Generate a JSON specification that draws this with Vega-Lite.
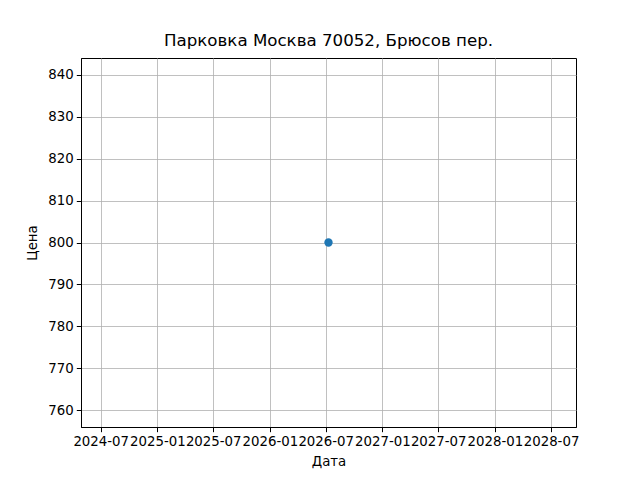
{
  "$schema": "https://vega.github.io/schema/vega-lite/v6.json",
  "autosize": "none",
  "width": 495,
  "height": 369,
  "padding": {"left": 81, "top": 58, "right": 64, "bottom": 53},
  "background": "white",
  "config": {
    "font": "DejaVu Sans",
    "view": {"stroke": "black", "strokeWidth": 1},
    "axis": {
      "labelFont": "DejaVu Sans",
      "labelFontSize": 13.33,
      "labelColor": "black",
      "titleFont": "DejaVu Sans",
      "titleFontSize": 13.33,
      "titleFontWeight": "normal",
      "titleColor": "black",
      "domainColor": "black",
      "tickColor": "black",
      "tickSize": 4.7,
      "labelPadding": 3,
      "gridColor": "#b0b0b0",
      "gridWidth": 0.8,
      "gridOpacity": 1
    }
  },
  "title": {
    "text": "Парковка Москва 70052, Брюсов пер.",
    "font": "DejaVu Sans",
    "fontSize": 16.67,
    "fontWeight": "normal",
    "color": "black",
    "offset": 8
  },
  "data": {
    "values": [
      {"date": "2026-07-10", "price": 800}
    ]
  },
  "mark": {"type": "point", "filled": true, "size": 70, "color": "#1f77b4", "opacity": 1},
  "encoding": {
    "x": {
      "field": "date",
      "type": "temporal",
      "title": "Дата",
      "scale": {
        "type": "utc",
        "domain": [
          {"year": 2024, "month": 4, "date": 28, "utc": true},
          {"year": 2028, "month": 9, "date": 20, "utc": true}
        ],
        "nice": false
      },
      "axis": {
        "values": [
          {"year": 2024, "month": 7, "date": 1, "utc": true},
          {"year": 2025, "month": 1, "date": 1, "utc": true},
          {"year": 2025, "month": 7, "date": 1, "utc": true},
          {"year": 2026, "month": 1, "date": 1, "utc": true},
          {"year": 2026, "month": 7, "date": 1, "utc": true},
          {"year": 2027, "month": 1, "date": 1, "utc": true},
          {"year": 2027, "month": 7, "date": 1, "utc": true},
          {"year": 2028, "month": 1, "date": 1, "utc": true},
          {"year": 2028, "month": 7, "date": 1, "utc": true}
        ],
        "format": "%Y-%m",
        "labelOverlap": false,
        "labelFlush": false,
        "titlePadding": 6
      }
    },
    "y": {
      "field": "price",
      "type": "quantitative",
      "title": "Цена",
      "scale": {"domain": [756, 844], "nice": false, "zero": false},
      "axis": {
        "values": [760, 770, 780, 790, 800, 810, 820, 830, 840],
        "labelFlush": false,
        "titlePadding": 8
      }
    }
  }
}
